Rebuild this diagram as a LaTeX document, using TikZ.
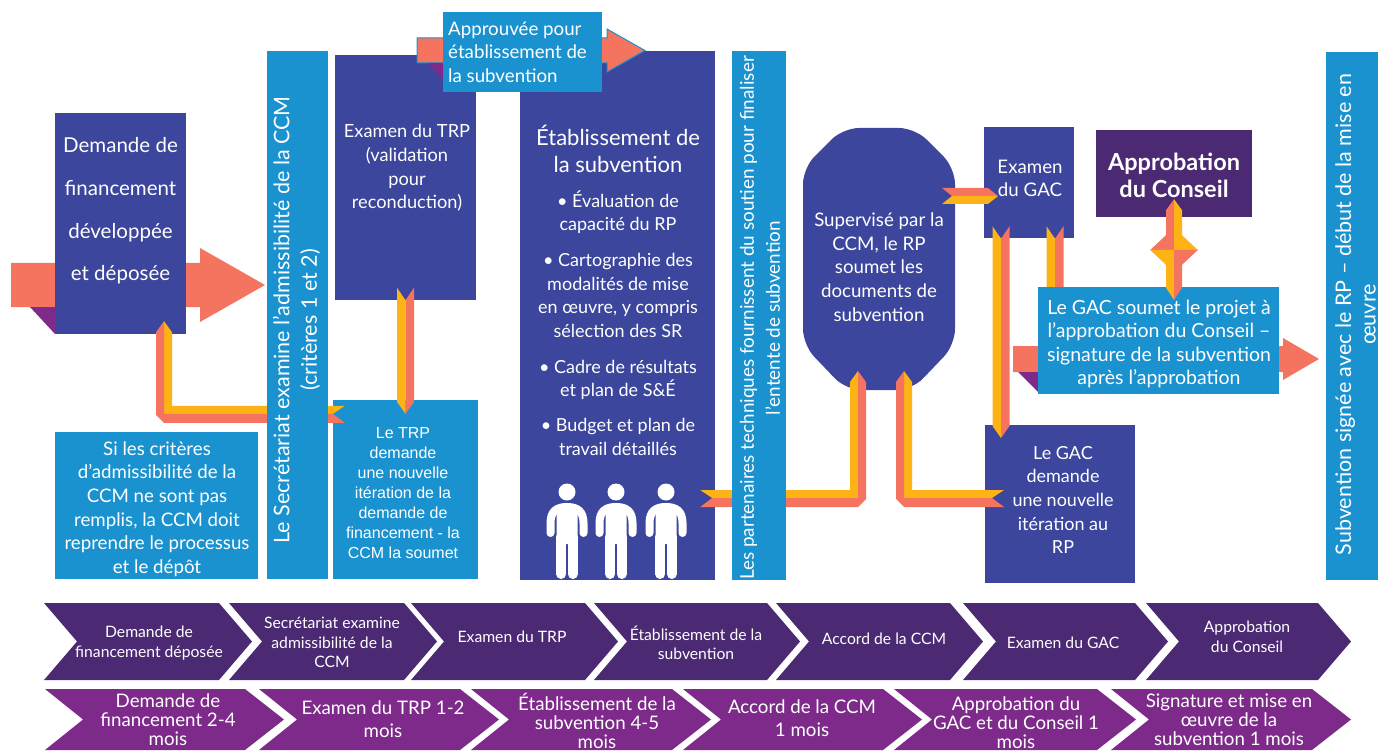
\documentclass[tikz,border=0pt]{standalone}
\usepackage{fontspec}
\setmainfont{Lato}
\newfontfamily\arialfont{Liberation Sans}
\usetikzlibrary{calc}
\definecolor{navy}{HTML}{3B469C}
\definecolor{sky}{HTML}{1A92D0}
\definecolor{saumon}{HTML}{F4745F}
\definecolor{ambre}{HTML}{FDB215}
\definecolor{prune}{HTML}{4B2A73}
\definecolor{violet}{HTML}{7D2A8A}
\tikzset{
    navy box/.style={fill=navy,inner sep=0pt},
    sky box/.style={fill=sky,inner sep=0pt},
    plain text/.style={
        text=white,inner sep=0pt,align=center,
        font=\fontsize{18.7}{23.6}\selectfont
    },
    top chevron/.style={fill=prune},
    low chevron/.style={fill=violet},
    top label/.style={
        text=white,inner sep=0pt,align=center,
        font=\fontsize{15.7}{19.5}\selectfont
    },
    low label/.style={
        text=white,inner sep=0pt,align=center,
        font=\fontsize{18.7}{19}\selectfont
    }
}
% tail, tip, half body, head length, half head
\newcommand{\bigarrow}[6][]{
    \fill[saumon,#1] ($(#2)+(0,-#4)$) -- ($(#3)+(-#5,-#4)$) -- ($(#3)+(-#5,-#6)$) -- (#3)
        -- ($(#3)+(-#5,#6)$) -- ($(#3)+(-#5,#4)$) -- ($(#2)+(0,#4)$) -- cycle;
}
% notch, tip, left colour, right colour
\newcommand{\downribbon}[4]{
    \fill[#3] (#1) -- ++(-8.5,-12.5) -- ($(#2)+(-8.5,-12)$) -- (#2) -- cycle;
    \fill[#4] (#1) -- ++(8.5,-12.5) -- ($(#2)+(8.5,-12)$) -- (#2) -- cycle;
}
% tip, notch, side of the tail (1 or -1)
\newcommand{\elbow}[3]{
    \coordinate (corner) at (#1 |- #2);
    \fill[ambre] (#1) -- ++(#3*8,11) -- ($(corner)+(#3*8,-8)$) -- ($(#2)+(#3*12,-8)$) -- (#2) -- (corner) -- cycle;
    \fill[saumon] (#1) -- ++({#3*(-8)},11) -- ($(corner)+({#3*(-8)},1)$) -- ($(corner)+(0,9)$) -- ($(#2)+(#3*12,9)$) -- (#2) -- (corner) -- cycle;
}
\newcommand{\person}[1]{
    \begin{scope}[shift={(#1,492)}]
        \fill[white] (0,0) circle[radius=8.5];
        \fill[white,rounded corners=3] (-10.5,13) rectangle (10.5,52);
        \draw[white,line width=8,line cap=round] (-16.5,41) -- (-16.5,31) .. controls (-16.5,19) and (-10,15) .. (0,15)
            .. controls (10,15) and (16.5,19) .. (16.5,31) -- (16.5,41);
        \draw[white,line width=10,line cap=round] (-5.7,45) -- (-5.7,82);
        \draw[white,line width=10,line cap=round] (5.7,45) -- (5.7,82);
    \end{scope}
}

\begin{document}
\begin{tikzpicture}[x=1pt,y=-1pt]
    \useasboundingbox (0,0) rectangle (1378,751);
    % left part
    \coordinate (demtail) at (11,285);
    \coordinate (demtip) at (265,285);
    \bigarrow{demtail}{demtip}{22}{65}{37}
    \fill[violet] (30,307) -- (55,307) -- (55,334) -- cycle;
    \node[navy box,minimum width=131,minimum height=221] (dem) at (120.5,223.5) {};
    \node[plain text,font=\fontsize{20.5}{42.7}\selectfont] (demtext) at (120.5,211)
        {Demande de\\financement\\développée\\et déposée};
    \node[navy box,minimum width=141,minimum height=245] (trp) at (405.5,177.5) {};
    \node[plain text,font=\fontsize{18.2}{23.6}\selectfont] (trptext) at (407,168) {Examen du TRP\\(validation\\pour\\reconduction)};
    \node[sky box,minimum width=145,minimum height=179] (trpdem) at (405.5,489.5) {};
    \node[plain text,font=\arialfont\fontsize{16}{20}\selectfont] (trpdemtext) at (403,493.5)
        {Le TRP\\demande\\une nouvelle\\itération de la\\demande de\\financement - la\\CCM la soumet};
    \node[sky box,minimum width=203,minimum height=147] (crit) at (156.5,505.5) {};
    \node[plain text] (crittext) at (157,509)
        {Si les critères\\d’admissibilité de la\\CCM ne sont pas\\remplis, la CCM doit\\reprendre le processus\\et le dépôt};
    \coordinate (trptip) at ([yshift=-14]trpdem.north);
    \downribbon{trp.south}{trptip}{ambre}{saumon}
    \coordinate (demtop) at ([xshift=43.5,yshift=13]dem.south);
    \coordinate (secnotch) at ([yshift=-14]trpdem.north west);
    \elbow{demtop}{secnotch}{1}
    \node[sky box,minimum width=61,minimum height=528] (sec) at (297.5,315) {};
    \node[plain text,rotate=90,font=\fontsize{21.5}{27.5}\selectfont] (sectext) at (296.5,320)
        {Le Secrétariat examine l’admissibilité de la CCM\\(critères 1 et 2)};
    % grant making
    \node[navy box,minimum width=195,minimum height=529] (etab) at (617.5,315.5) {};
    \node[plain text,font=\fontsize{22}{27}\selectfont] (etabtitle) at (618,149) {Établissement de\\la subvention};
    \node[plain text,font=\fontsize{18}{23.5}\selectfont] (etablist) at (618,323)
        {• Évaluation de\\capacité du RP\\[12.5pt]
         • Cartographie des\\modalités de mise\\en œuvre, y compris\\sélection des SR\\[12.5pt]
         • Cadre de résultats\\et plan de S\&É\\[11.5pt]
         • Budget et plan de\\travail détaillés};
    \foreach \px in {567,616,666}
        \person{\px}
    \coordinate (apprtail) at (417,50.5);
    \coordinate (apprtip) at (645,50.5);
    \bigarrow[draw=sky,line width=1]{apprtail}{apprtip}{12.5}{38}{21.5}
    \fill[violet] (428,63) -- (443,63) -- (443,80) -- cycle;
    \node[sky box,minimum width=159,minimum height=80] (appr) at (522.5,52) {};
    \node[plain text,align=left,anchor=west] (apprtext) at (448,52) {Approuvée pour\\établissement de\\la subvention};
    % second part
    \fill[navy,rounded corners=16] (843,128) -- (915,128) -- (955,168) -- (955,345) -- (912,390)
        -- (846,390) -- (803,345) -- (803,168) -- cycle;
    \node[plain text] (oct) at (879,267) {Supervisé par la\\CCM, le RP\\soumet les\\documents de\\subvention};
    \node[navy box,minimum width=90,minimum height=111] (gac) at (1028.5,183) {};
    \node[plain text] (gactext) at (1030,178.5) {Examen\\du GAC};
    \node[navy box,minimum width=150,minimum height=158] (gacdem) at (1060,504) {};
    \node[plain text,font=\fontsize{18}{23.6}\selectfont] (gacdemtext) at (1063,500) {Le GAC\\demande\\une nouvelle\\itération au\\RP};
    \coordinate (etabnotch) at ([xshift=-3]etab.east |- 0,498);
    \coordinate (octleft) at (858,371);
    \elbow{octleft}{etabnotch}{-1}
    \coordinate (octright) at (904,371);
    \coordinate (gacdemnotch) at (992,498);
    \elbow{octright}{gacdemnotch}{1}
    \node[sky box,minimum width=54,minimum height=529] (part) at (759,315.5) {};
    \node[plain text,rotate=90,font=\fontsize{18.9}{26}\selectfont] (parttext) at (760,318)
        {Les partenaires techniques fournissent du soutien pour finaliser\\l’entente de subvention};
    % oct to gac
    \coordinate (octnotch) at (952,196);
    \coordinate (gactip) at (998,196);
    \fill[saumon] (octnotch) -- ++(-10,-8) -- ($(gactip)+(-10,-8)$) -- (gactip) -- cycle;
    \fill[ambre] (octnotch) -- ++(-10,8) -- ($(gactip)+(-10,8)$) -- (gactip) -- cycle;
    \coordinate (gacone) at ([xshift=-27.5]gac.south);
    \coordinate (gacdemtip) at (gacone |- 0,438);
    \downribbon{gacone}{gacdemtip}{ambre}{saumon}
    \coordinate (gactwo) at ([xshift=26.5]gac.south);
    \coordinate (soumtop) at (gactwo |- 0,300);
    \downribbon{gactwo}{soumtop}{ambre}{saumon}
    \node[fill=prune,minimum width=156,minimum height=87,inner sep=0pt] (cons) at (1174,173.5) {};
    \node[plain text,font=\bfseries\fontsize{23.5}{27}\selectfont] (constext) at (1174,175.5) {Approbation\\du Conseil};
    \coordinate (signtail) at (1013,359);
    \coordinate (signtip) at (1319,359);
    \bigarrow{signtail}{signtip}{13}{36}{21}
    \fill[violet] (1018,372) -- (1038,372) -- (1038,392) -- cycle;
    \node[sky box,minimum width=241,minimum height=107] (soum) at (1158.5,340.5) {};
    \node[plain text,font=\fontsize{19.5}{23.6}\selectfont] (soumtext) at (1159,344)
        {Le GAC soumet le projet à\\l’approbation du Conseil --\\signature de la subvention\\après l’approbation};
    % two way arrow
    \coordinate (consnotch) at (1174,250);
    \coordinate (constip) at ([yshift=18]cons.south);
    \coordinate (soumtip) at ([xshift=15.5,yshift=-13]soum.north);
    \fill[saumon] (consnotch) -- (constip) -- ++(-8,11) -- ++(0,25) -- ++(-16,15) -- cycle;
    \fill[ambre] (consnotch) -- (constip) -- ++(8,11) -- ++(0,25) -- ++(16,15) -- cycle;
    \fill[ambre] (consnotch) -- (soumtip) -- ++(-8,-12) -- ++(0,-23) -- ++(-16,-15) -- cycle;
    \fill[saumon] (consnotch) -- (soumtip) -- ++(8,-12) -- ++(0,-23) -- ++(16,-15) -- cycle;
    \node[sky box,minimum width=52,minimum height=528] (sign) at (1352,316) {};
    \node[plain text,rotate=90,font=\fontsize{21.5}{24.5}\selectfont] (signtext) at (1355.5,314.5)
        {Subvention signée avec le RP -- début de la mise en\\œuvre};
    % time lines
    \foreach \i/\l/\r/\tx/\ty/\txt in {
        1/44/219/149/643/{Demande de\\financement déposée},
        2/229/404/332/642.5/{Secrétariat examine\\admissibilité de la\\CCM},
        3/411/585/512/637/{Examen du TRP},
        4/594/767/696/643/{Établissement de la\\subvention},
        5/776/950/884/639/{Accord de la CCM},
        6/963/1135/1063/643/{Examen du GAC},
        7/1146/1318/1247/637/{Approbation\\du Conseil}} {
        \fill[top chevron] (\l,603) -- (\r,603) -- (\r+33,641.5) -- (\r,680) -- (\l,680) -- (\l+33,641.5) -- cycle;
        \node[top label] (top\i) at (\tx,\ty) {\txt};
    }
    \foreach \i/\l/\r/\tx/\ty/\txt in {
        1/45/245/168/720/{Demande de\\financement 2-4\\mois},
        2/259/460/383/719/{Examen du TRP 1-2\\[4pt]mois},
        3/471/672/597/720.5/{Établissement de la\\subvention 4-5\\mois},
        4/683/883/802/718.5/{Accord de la CCM\\[4pt]1 mois},
        5/894/1097/1016/722.5/{Approbation du\\GAC et du Conseil 1\\mois},
        6/1111/1312/1229/720/{Signature et mise en\\œuvre de la\\subvention 1 mois}} {
        \fill[low chevron] (\l,689) -- (\r,689) -- (\r+39,719.5) -- (\r,750) -- (\l,750) -- (\l+38,719.5) -- cycle;
        \node[low label] (low\i) at (\tx,\ty) {\txt};
    }
\end{tikzpicture}
\end{document}
